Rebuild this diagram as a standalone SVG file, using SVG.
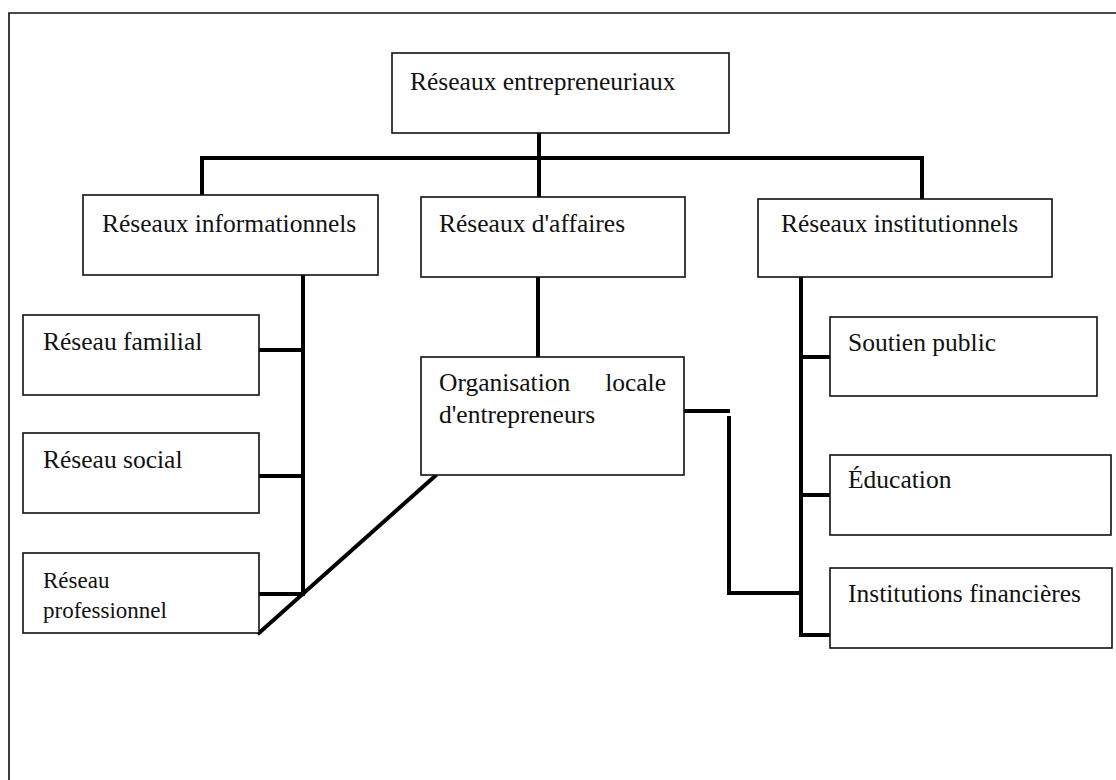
<svg xmlns="http://www.w3.org/2000/svg" width="1116" height="780" viewBox="0 0 1116 780">
  <style>
    .box { fill: #ffffff; stroke: #111111; stroke-width: 1.6; }
    .lbl { font-family: "Liberation Serif", "Times New Roman", serif; font-size: 25.5px; fill: #111111; }
    .sm { font-size: 23px; }
    .wire { fill: none; stroke: #000000; stroke-width: 4; stroke-linecap: square; stroke-linejoin: miter; }
    .frame { fill: none; stroke: #111111; stroke-width: 1.6; }
  </style>
  <rect width="1116" height="780" fill="#ffffff"/>

  <!-- page frame (left and top edges only) -->
  <path class="frame" d="M9,780 L9,13 L1116,13"/>

  <!-- connectors -->
  <g id="connectors">
    <!-- top bus -->
    <path class="wire" d="M539,133 L539,197"/>
    <path class="wire" d="M202,195 L202,158 L922,158 L922,199"/>
    <!-- informational branch -->
    <path class="wire" d="M303,276 L303,593"/>
    <path class="wire" d="M260,350 L303,350"/>
    <path class="wire" d="M260,476 L303,476"/>
    <path class="wire" d="M260,594 L303,594"/>
    <!-- business branch -->
    <path class="wire" d="M538,278 L538,357"/>
    <path class="wire" d="M259,633 L435,476"/>
    <path class="wire" d="M685,411 L728,411"/>
    <path class="wire" d="M729,418 L729,593 L801,593"/>
    <!-- institutional branch -->
    <path class="wire" d="M801,278 L801,635 L830,635"/>
    <path class="wire" d="M801,357 L830,357"/>
    <path class="wire" d="M801,495 L830,495"/>
  </g>

  <g id="n-entrepreneuriaux">
    <rect class="box" x="392" y="53" width="337" height="80"/>
    <text class="lbl" x="410" y="90">Réseaux entrepreneuriaux</text>
  </g>

  <g id="n-informationnels">
    <rect class="box" x="83" y="195" width="295" height="80"/>
    <text class="lbl" x="102" y="232">Réseaux informationnels</text>
  </g>

  <g id="n-affaires">
    <rect class="box" x="421" y="197" width="264" height="80"/>
    <text class="lbl" x="439" y="232">Réseaux d'affaires</text>
  </g>

  <g id="n-institutionnels">
    <rect class="box" x="758" y="199" width="294" height="78"/>
    <text class="lbl" x="781" y="232">Réseaux institutionnels</text>
  </g>

  <g id="n-familial">
    <rect class="box" x="23" y="315" width="236" height="80"/>
    <text class="lbl" x="43" y="350">Réseau familial</text>
  </g>

  <g id="n-social">
    <rect class="box" x="23" y="433" width="236" height="80"/>
    <text class="lbl" x="43" y="468">Réseau social</text>
  </g>

  <g id="n-professionnel">
    <rect class="box" x="23" y="553" width="236" height="80"/>
    <text class="lbl sm" x="43" y="588">Réseau</text>
    <text class="lbl sm" x="43" y="618">professionnel</text>
  </g>

  <g id="n-organisation">
    <rect class="box" x="421" y="357" width="263" height="118"/>
    <text class="lbl" x="439" y="391">Organisation</text>
    <text class="lbl" x="666" y="391" text-anchor="end">locale</text>
    <text class="lbl" x="439" y="423">d'entrepreneurs</text>
  </g>

  <g id="n-soutien">
    <rect class="box" x="830" y="317" width="267" height="79"/>
    <text class="lbl" x="848" y="351">Soutien public</text>
  </g>

  <g id="n-education">
    <rect class="box" x="830" y="455" width="281" height="80"/>
    <text class="lbl" x="848" y="488">Éducation</text>
  </g>

  <g id="n-financieres">
    <rect class="box" x="830" y="568" width="282" height="80"/>
    <text class="lbl" x="848" y="602">Institutions financières</text>
  </g>
</svg>
